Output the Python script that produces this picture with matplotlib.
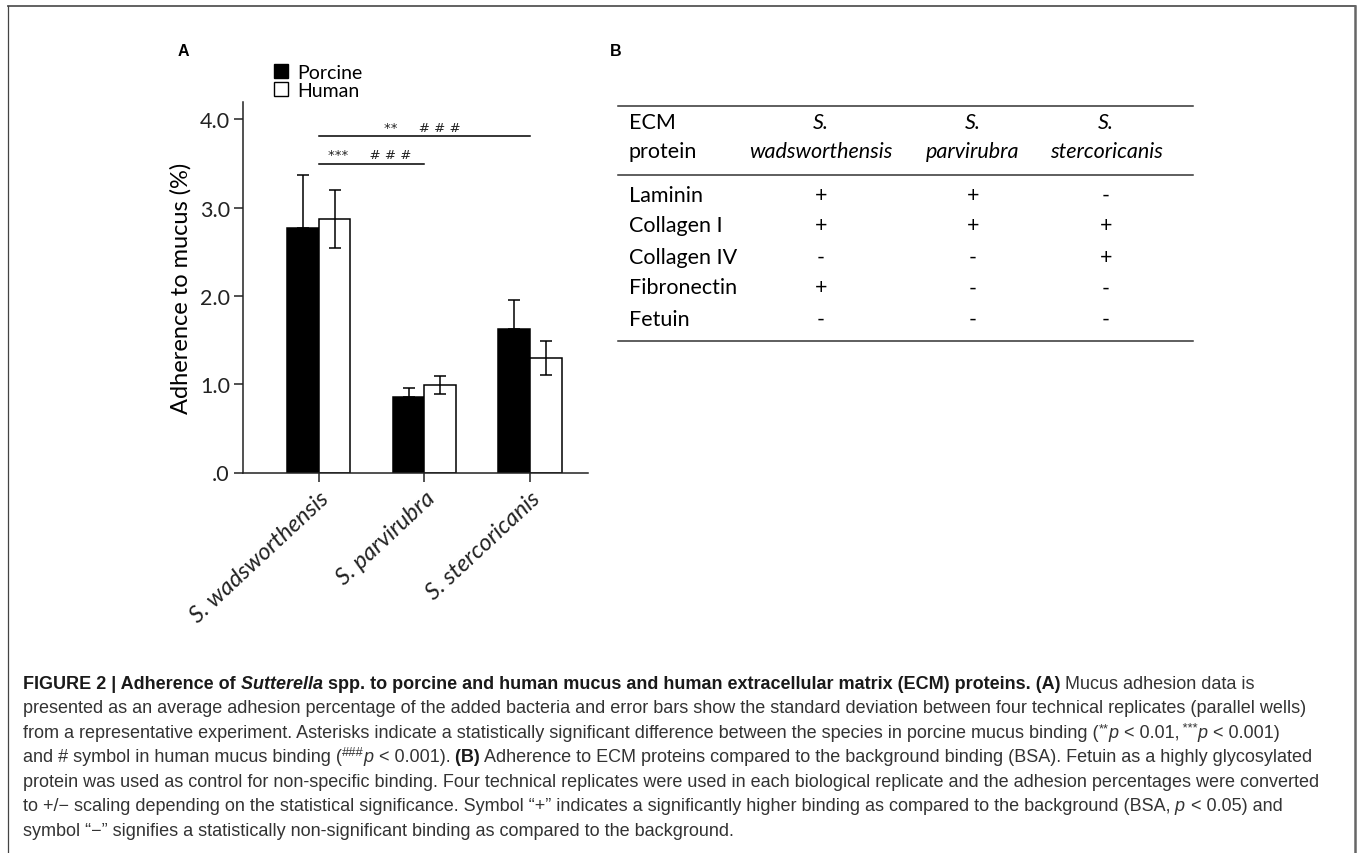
import numpy as np
import matplotlib
matplotlib.use('Agg')
import matplotlib.pyplot as plt
from matplotlib.patches import Patch
from matplotlib.lines import Line2D

plt.rcParams['font.family'] = ['Lato', 'DejaVu Sans']

# ---- panel A data ----
species = ['S. wadsworthensis', 'S. parvirubra', 'S. stercoricanis']
porcine = [2.77, 0.85, 1.63]
porcine_sd = [0.60, 0.11, 0.32]
human = [2.87, 0.99, 1.30]
human_sd = [0.33, 0.10, 0.19]
yticks = [0, 1, 2, 3, 4]
ytick_labels = ['.0', '1.0', '2.0', '3.0', '4.0']

# ---- panel B data ----
ecm_proteins = ['Laminin', 'Collagen I', 'Collagen IV', 'Fibronectin', 'Fetuin']
col_heads = [('S.', 'wadsworthensis'), ('S.', 'parvirubra'), ('S.', 'stercoricanis')]
binding = [['+', '+', '-'],
           ['+', '+', '+'],
           ['-', '-', '+'],
           ['+', '-', '-'],
           ['-', '-', '-']]

W, H = 1357, 854
fig = plt.figure(figsize=(W / 100, H / 100), dpi=100)


def fx(x):
    return x / W


def fy(y):
    return 1 - y / H


# frame around the figure
fig.add_artist(Line2D([fx(8), fx(1355)], [fy(7), fy(7)], color='#555555', lw=1.3))
fig.add_artist(Line2D([fx(8), fx(8)], [fy(7), 0], color='#444444', lw=0.9))
fig.add_artist(Line2D([fx(1355), fx(1355)], [fy(7), 0], color='#666666', lw=1.8))

# ---------------- panel A ----------------
ax = fig.add_axes([fx(243), fy(473.5), (588 - 243) / W, (473.5 - 102.7) / H])
x = np.arange(len(species))
w = 0.3
ax.bar(x - w / 2, porcine, w, color='black', edgecolor='black', lw=1.1, zorder=2)
ax.bar(x + w / 2, human, w, color='white', edgecolor='black', lw=1.1, zorder=2)
ax.errorbar(x - w / 2, porcine, yerr=[np.zeros(3), porcine_sd], fmt='none',
            ecolor='black', elinewidth=1.1, capsize=4, capthick=1.1, zorder=3)
ax.errorbar(x + w / 2, human, yerr=human_sd, fmt='none',
            ecolor='black', elinewidth=1.1, capsize=4, capthick=1.1, zorder=3)

ax.set_xlim(-0.716, 2.548)
ax.set_ylim(0, 4.2)
ax.set_yticks(yticks)
ax.set_yticklabels(ytick_labels)
ax.set_xticks(x)
ax.set_xticklabels(species, rotation=43, ha='right', va='top',
                   rotation_mode='anchor', style='italic', fontsize=17)
ax.tick_params(axis='both', direction='out', length=6.5, width=1.1, colors='#222222')
ax.tick_params(axis='y', labelsize=15.5, pad=3)
ax.tick_params(axis='x', pad=4)
for s in ['top', 'right']:
    ax.spines[s].set_visible(False)
for s in ['left', 'bottom']:
    ax.spines[s].set_linewidth(1.1)
    ax.spines[s].set_color('#222222')
ax.set_ylabel('Adherence to mucus (%)', fontsize=17, labelpad=6)

# significance brackets
ax.plot([0, 2], [3.81, 3.81], color='black', lw=1.1, clip_on=False)
ax.text(0.98, 3.91, '**     # # #', ha='center', va='center', fontsize=9.5,
        family='DejaVu Sans', color='#222222')
ax.plot([0, 1], [3.50, 3.50], color='black', lw=1.1, clip_on=False)
ax.text(0.48, 3.60, '***     # # #', ha='center', va='center', fontsize=9.5,
        family='DejaVu Sans', color='#222222')

handles = [Patch(facecolor='black', edgecolor='black'),
           Patch(facecolor='white', edgecolor='black', lw=1)]
fig.legend(handles, ['Porcine', 'Human'], loc='upper left',
           bbox_to_anchor=(fx(274), fy(65)), frameon=False, fontsize=14,
           handlelength=0.7, handleheight=0.7, handletextpad=0.5,
           labelspacing=0.05, borderpad=0, borderaxespad=0)

fig.text(fx(183), fy(52), 'A', fontsize=11.5, weight='bold',
         family='Liberation Sans', ha='center', va='center')
fig.text(fx(616), fy(52), 'B', fontsize=11.5, weight='bold',
         family='Liberation Sans', ha='center', va='center')

# ---------------- panel B (table) ----------------
tl, tr = 618, 1193
for yy in [106.5, 176, 342]:
    fig.add_artist(Line2D([fx(tl), fx(tr)], [fy(yy), fy(yy)], color='#333333', lw=1.1))
col_x = [821, 973, 1106]
fs_tab = 15.5
fig.text(fx(629), fy(123), 'ECM', fontsize=fs_tab, va='center', ha='left')
fig.text(fx(629), fy(152), 'protein', fontsize=fs_tab, va='center', ha='left')
for cx, (a, b) in zip(col_x, col_heads):
    fig.text(fx(cx), fy(123), a, fontsize=fs_tab, style='italic', ha='center', va='center')
    fig.text(fx(cx), fy(152), b, fontsize=fs_tab, style='italic', ha='center', va='center')
row_y = [196, 226.5, 257.5, 288.5, 320]
for ry, name, vals in zip(row_y, ecm_proteins, binding):
    fig.text(fx(629), fy(ry), name, fontsize=fs_tab, va='center', ha='left')
    for cx, v in zip(col_x, vals):
        fig.text(fx(cx), fy(ry), v, fontsize=fs_tab, va='center', ha='center')

# ---------------- caption ----------------
cap_fs = 13.0
cap_font = 'Liberation Sans'
reg = dict(color='#333333')
bold = dict(color='#1a1a1a', weight='bold')
boldit = dict(color='#1a1a1a', weight='bold', style='italic')
ital = dict(color='#333333', style='italic')
sup = dict(color='#333333', sup=True)

caption = [
    [('FIGURE 2 | Adherence of', bold), (' Sutterella', boldit),
     (' spp. to porcine and human mucus and human extracellular matrix (ECM) proteins. (A)', bold),
     (' Mucus adhesion data is', reg)],
    [('presented as an average adhesion percentage of the added bacteria and error bars show '
      'the standard deviation between four technical replicates (parallel wells)', reg)],
    [('from a representative experiment. Asterisks indicate a statistically significant difference '
      'between the species in porcine mucus binding (', reg), ('**', sup), ('p', ital),
     (' < 0.01,', reg), (' ***', sup), ('p', ital), (' < 0.001)', reg)],
    [('and # symbol in human mucus binding (', reg), ('###', sup), ('p', ital),
     (' < 0.001).', reg), (' (B)', bold),
     (' Adherence to ECM proteins compared to the background binding (BSA). Fetuin as a highly glycosylated', reg)],
    [('protein was used as control for non-specific binding. Four technical replicates were used '
      'in each biological replicate and the adhesion percentages were converted', reg)],
    [('to +/\u2212 scaling depending on the statistical significance. Symbol \u201c+\u201d indicates '
      'a significantly higher binding as compared to the background (BSA,', reg), (' p', ital),
     (' < 0.05) and', reg)],
    [('symbol \u201c\u2212\u201d signifies a statistically non-significant binding as compared '
      'to the background.', reg)],
]

renderer = fig.canvas.get_renderer()
for i, line in enumerate(caption):
    base = 689 + 24.5 * i
    xpos = 23
    for txt, st in line:
        st = dict(st)
        is_sup = st.pop('sup', False)
        size = cap_fs * 0.72 if is_sup else cap_fs
        yb = base - 6 if is_sup else base
        t = fig.text(fx(xpos), fy(yb), txt, fontsize=size, family=cap_font,
                     ha='left', va='baseline', **st)
        xpos += t.get_window_extent(renderer).width

fig.savefig('out.png', dpi=100)
